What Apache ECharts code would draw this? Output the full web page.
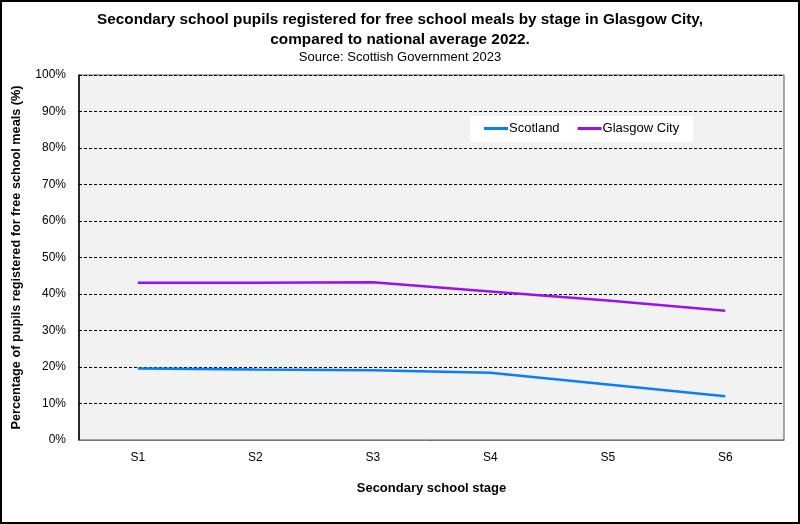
<!DOCTYPE html>
<html><head><meta charset="utf-8">
<script src="https://cdn.jsdelivr.net/npm/echarts@6/dist/echarts.min.js"></script>
<style>html,body{margin:0;padding:0;background:#fff}#c{width:800px;height:524px;box-sizing:border-box;border:2px solid #000}</style>
</head><body><div id="c"></div>
<script>
const categories = ['S1','S2','S3','S4','S5','S6'];
const scotland = [19.6, 19.3, 19.1, 18.4, 15.2, 12.0];
const glasgow = [43.1, 43.1, 43.2, 40.7, 38.2, 35.4];
const yTicks = [0,10,20,30,40,50,60,70,80,90,100];

const chart = echarts.init(document.getElementById('c'), null, {renderer:'canvas'});
const font = 'Liberation Sans, Arial, sans-serif';
chart.setOption({
  animation:false,
  backgroundColor:'#fff',
  title:{
    text:'Secondary school pupils registered for free school meals by stage in Glasgow City,\ncompared to national average 2022.',
    subtext:'Source: Scottish Government 2023',
    left:'center', top:3, itemGap:0,
    textStyle:{fontFamily:font,fontSize:15.3,fontWeight:'bold',color:'#000',lineHeight:20},
    subtextStyle:{fontFamily:font,fontSize:13,color:'#000',lineHeight:15}
  },
  legend:{
    data:['Scotland','Glasgow City'],
    left:468, top:114, width:224,
    backgroundColor:'#fff', padding:[6,14,7,14], itemGap:18,
    itemWidth:24, itemHeight:3, icon:'rect',
    textStyle:{fontFamily:font,fontSize:13,color:'#000',padding:[0,0,0,-4]}
  },
  grid:{left:77, right:14, top:73, bottom:82, show:true, backgroundColor:'#f2f2f2', borderColor:'#555', borderWidth:1},
  xAxis:{
    type:'category', data:categories, boundaryGap:true,
    name:'Secondary school stage', nameLocation:'middle', nameGap:42,
    nameTextStyle:{fontFamily:font,fontSize:13,fontWeight:'bold',color:'#000'},
    axisLine:{lineStyle:{color:'#777'}}, axisTick:{show:false},
    axisLabel:{fontFamily:font,fontSize:12,color:'#000',margin:12}
  },
  yAxis:{
    type:'value', min:0, max:100, interval:10,
    name:'Percentage of pupils registered for free school meals (%)', nameLocation:'middle', nameGap:56,
    nameTextStyle:{fontFamily:font,fontSize:12.7,fontWeight:'bold',color:'#000'},
    axisLine:{show:true,lineStyle:{color:'#000',width:1.5}}, axisTick:{show:false},
    axisLabel:{fontFamily:font,fontSize:12,color:'#000',margin:13,formatter:v=>v+'%'},
    splitLine:{lineStyle:{color:'#000',type:[3,2],width:1}}
  },
  series:[
    {name:'Scotland',type:'line',data:scotland,symbol:'none',lineStyle:{color:'#0a7cff',width:2.5},itemStyle:{color:'#0a7cff'}},
    {name:'Glasgow City',type:'line',data:glasgow,symbol:'none',lineStyle:{color:'#9a10ee',width:2.5},itemStyle:{color:'#9a10ee'}}
  ]
});
</script></body></html>
